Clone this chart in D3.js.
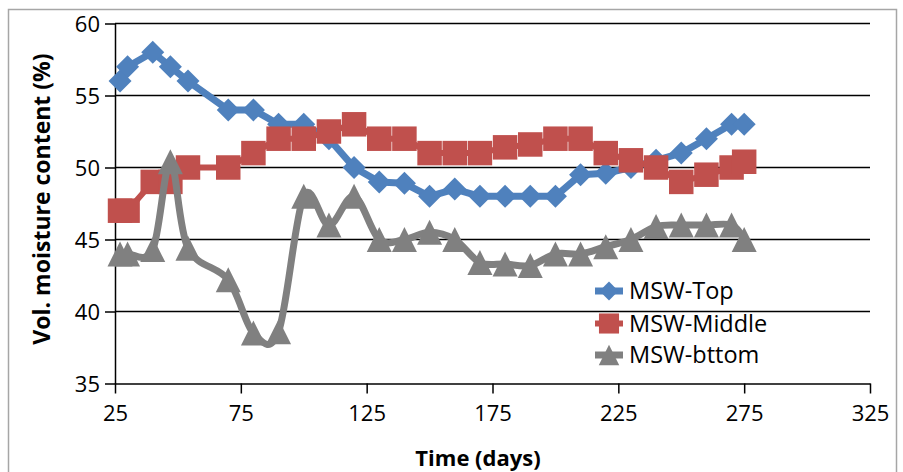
<!DOCTYPE html>
<html lang="en">
<head>
    <meta charset="UTF-8">
    <title>Vol. moisture content</title>
    <script src="https://d3js.org/d3.v7.min.js"></script>
    <style>
        body {
            margin: 0;
            padding: 0;
            background: #fff;
        }
        svg {
            font-family: "Open Sans", Arial, sans-serif;
        }
    </style>
</head>
<body>
    <svg width="903" height="472"></svg>

    <script>
        // Data
        const days = [27, 30, 40, 47, 54, 70, 80, 90, 100, 110, 120, 130, 140, 150, 160,
                      170, 180, 190, 200, 210, 220, 230, 240, 250, 260, 270, 275];
        const topValues = [56, 57, 58, 57, 56, 54, 54, 53, 53, 52, 50, 49, 48.9, 48, 48.5,
                           48, 48, 48, 48, 49.5, 49.6, 50, 50.5, 51, 52, 53, 53];
        const middleValues = [47, 47, 49, 49, 50, 50, 51, 52, 52, 52.5, 53, 52, 52, 51, 51,
                              51, 51.4, 51.6, 52, 52, 51, 50.5, 50, 49, 49.5, 50, 50.4];
        const bottomValues = [44, 44, 44.3, 50.4, 44.4, 42.2, 38.5, 38.6, 48, 46, 48, 45, 45, 45.5, 45,
                              43.4, 43.3, 43.2, 44, 44, 44.5, 45, 45.9, 46, 46, 46, 45];
        const seriesNames = ["MSW-Top", "MSW-Middle", "MSW-bttom"];
        const xTicks = [25, 75, 125, 175, 225, 275, 325];
        const yTicks = [35, 40, 45, 50, 55, 60];

        const svg = d3.select("svg");

        // outer chart frame
        svg.append("rect")
            .attr("x", 8.5).attr("y", 9.5)
            .attr("width", 888).attr("height", 470)
            .attr("fill", "none")
            .attr("stroke", "#a6a6a6")
            .attr("stroke-width", 1.5);

        const x = d3.scaleLinear().domain([25, 325]).range([115, 870]);
        const y = d3.scaleLinear().domain([35, 60]).range([383.5, 23.5]);

        // gridlines
        svg.append("g")
            .selectAll("line")
            .data(yTicks.filter(d => d > 35))
            .join("line")
            .attr("x1", x(25)).attr("x2", x(325))
            .attr("y1", d => y(d)).attr("y2", d => y(d))
            .attr("stroke", "#000")
            .attr("stroke-width", 1.5);

        // axes
        const yAxis = svg.append("g")
            .attr("transform", `translate(${x(25)},0)`)
            .call(d3.axisLeft(y).tickValues(yTicks).tickSize(10).tickPadding(5).tickSizeOuter(0));
        const xAxis = svg.append("g")
            .attr("transform", `translate(0,${y(35)})`)
            .call(d3.axisBottom(x).tickValues(xTicks).tickSize(10).tickPadding(12).tickSizeOuter(0));

        [yAxis, xAxis].forEach(a => {
            a.select(".domain").attr("stroke", "#000").attr("stroke-width", 1.5);
            a.selectAll(".tick line").attr("stroke", "#000").attr("stroke-width", 1.5);
            a.selectAll(".tick text")
                .attr("fill", "#000")
                .style("font-size", "22px")
                .style("font-family", "'Open Sans', Arial, sans-serif");
        });
        yAxis.selectAll(".tick text").attr("dy", "0.36em");

        // axis titles
        svg.append("text")
            .attr("transform", "translate(50,199) rotate(-90)")
            .attr("text-anchor", "middle")
            .style("font-size", "23px")
            .style("font-weight", "bold")
            .text("Vol. moisture content (%)");

        svg.append("text")
            .attr("x", 478).attr("y", 466)
            .attr("text-anchor", "middle")
            .style("font-size", "22px")
            .style("font-weight", "bold")
            .text("Time (days)");

        // marker shapes
        function diamond(s) {
            const h = s / 2;
            return `M0,${-h}L${h},0L0,${h}L${-h},0Z`;
        }
        function square(s) {
            const h = s / 2;
            return `M${-h},${-h}H${h}V${h}H${-h}Z`;
        }
        function triangle(w, ht) {
            return `M0,${-ht / 2}L${w / 2},${ht / 2}L${-w / 2},${ht / 2}Z`;
        }

        const series = [
            { name: seriesNames[0], values: topValues, color: "#4f81bd", width: 7,
              curve: d3.curveLinear, marker: k => diamond(23 * k) },
            { name: seriesNames[1], values: middleValues, color: "#c0504d", width: 6,
              curve: d3.curveLinear, marker: k => square(24.5 * k) },
            { name: seriesNames[2], values: bottomValues, color: "#808080", width: 7,
              curve: d3.curveCardinal.tension(0), marker: k => triangle(25 * k, 25 * k) }
        ];

        series.forEach(s => {
            const pts = days.map((d, i) => [d, s.values[i]]);
            const line = d3.line()
                .x(d => x(d[0]))
                .y(d => y(d[1]))
                .curve(s.curve);

            const g = svg.append("g");
            g.append("path")
                .attr("d", line(pts))
                .attr("fill", "none")
                .attr("stroke", s.color)
                .attr("stroke-width", s.width)
                .attr("stroke-linejoin", "round");

            g.selectAll("path.mark")
                .data(pts)
                .join("path")
                .attr("class", "mark")
                .attr("transform", d => `translate(${x(d[0])},${y(d[1])})`)
                .attr("d", s.marker(1))
                .attr("fill", s.color);
        });

        // legend
        const legend = svg.append("g").attr("transform", "translate(595,0)");
        const rowY = [291, 323.5, 355];
        series.forEach((s, i) => {
            const row = legend.append("g").attr("transform", `translate(0,${rowY[i]})`);
            row.append("line")
                .attr("x1", 0).attr("x2", 28)
                .attr("stroke", s.color)
                .attr("stroke-width", s.width);
            row.append("path")
                .attr("transform", "translate(14,0)")
                .attr("d", s.marker(0.82))
                .attr("fill", s.color);
            row.append("text")
                .attr("x", 34)
                .attr("dy", "0.36em")
                .style("font-size", "23.5px")
                .text(s.name);
        });
    </script>
</body>
</html>
